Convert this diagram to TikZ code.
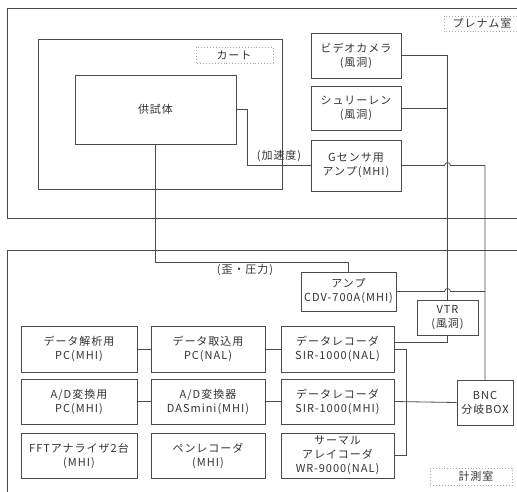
\documentclass[tikz,border=0pt]{standalone}
\usepackage{fontspec}
\setmainfont{Noto Sans CJK JP}[LetterSpace=9]
\usetikzlibrary{calc}
\definecolor{txt}{HTML}{333333}
\definecolor{ln}{HTML}{4A4A4A}
\definecolor{lb}{HTML}{A8A8A8}
\newcommand\mybox[6]{\node[box,minimum width={(#4)-(#2)},minimum height={(#5)-(#3)}] (#1) at ({((#2)+(#4))/2},{((#3)+(#5))/2}) {#6};}
\begin{document}
\begin{tikzpicture}[x=1pt,y=-1pt,
  every node/.style={text=txt, font=\fontsize{11}{14}\selectfont, align=center, inner sep=0pt},
  box/.style={draw=ln, line width=0.8pt},
  wire/.style={draw=ln, line width=0.8pt},
  lblbox/.style={draw=lb, dotted, line width=0.9pt}]
\useasboundingbox[fill=white] (0,0) rectangle (517,491);
% rooms
\begin{scope}
  \clip (0,0) rectangle (517,491);
  \draw[box] (7,8) rectangle (545,218);
  \draw[box] (7,250) rectangle (545,520);
  \draw[lblbox] (444,16) rectangle (545,31);
\end{scope}
\node (plenum) at (482,23.5) {プレナム室};
\draw[lblbox] (430,468) rectangle (512,485);
\node (keisoku) at (476,476.5) {計測室};
% cart
\mybox{cart}{38}{39}{282}{189}{}
\draw[lblbox] (196,47) rectangle (273,63);
\node (cartlbl) at (234,55) {カート};
\mybox{shitai}{75}{75}{236}{144}{供試体}
% plenum devices
\mybox{video}{311}{33}{401}{78}{ビデオカメラ\\(風洞)}
\mybox{schl}{311}{86}{401}{130}{シュリーレン\\(風洞)}
\mybox{gamp}{311}{140}{401}{191}{Gセンサ用\\アンプ(MHI)}
% measurement room
\mybox{amp}{301}{272}{396}{311}{アンプ\\CDV-700A(MHI)}
\mybox{vtr}{417}{300}{478}{335}{VTR\\(風洞)}
\mybox{r1c1}{21}{326}{137}{372}{データ解析用\\PC(MHI)}
\mybox{r1c2}{151}{326}{265}{372}{データ取込用\\PC(NAL)}
\mybox{r1c3}{281}{326}{394}{372}{データレコーダ\\SIR-1000(NAL)}
\mybox{r2c1}{21}{379}{137}{424}{A/D変換用\\PC(MHI)}
\mybox{r2c2}{151}{379}{265}{424}{A/D変換器\\DASmini(MHI)}
\mybox{r2c3}{281}{379}{394}{424}{データレコーダ\\SIR-1000(MHI)}
\mybox{r3c1}{21}{433}{137}{478}{FFTアナライザ2台\\(MHI)}
\mybox{r3c2}{151}{433}{265}{478}{ペンレコーダ\\(MHI)}
\mybox{r3c3}{281}{433}{394}{478}{サーマル\\アレイコーダ\\WR-9000(NAL)}
\mybox{bnc}{457}{380}{513}{425}{BNC\\分岐BOX}
% labels
\node (kasoku) at (279,156) {(加速度)};
\node (hizumi) at (245,270) {(歪・圧力)};
% wires
\draw[wire] (shitai.east) -- ++(11,0) |- (gamp.west);
\coordinate (jA) at (348.5,262);
\draw[wire] (shitai.south) |- (jA) -- (amp.north);
\draw[wire] (video.east) -| (vtr.north);
\draw[wire] (schl.east) -- (schl.east -| vtr.north);
\draw[wire] (gamp.east) -- ($(gamp.east -| vtr.north)+(-3,0)$) arc[start angle=180,end angle=0,radius=3pt] -- (gamp.east -| bnc.north) -- (bnc.north);
\draw[wire] (amp.east) -- ($(amp.east -| vtr.north)+(-3,0)$) arc[start angle=180,end angle=0,radius=3pt] -- (amp.east -| bnc.north);
\draw[wire] ($(r1c3.east)+(0,-7)$) -| (vtr.south);
\draw[wire] (r1c3.east) -- ++(12,0) |- (r3c3.east);
\draw[wire] (r2c3.east) -- (bnc.west);
\draw[wire] (r1c1.east) -- (r1c2.west);
\draw[wire] (r1c2.east) -- (r1c3.west);
\draw[wire] (r2c1.east) -- (r2c2.west);
\draw[wire] (r2c2.east) -- (r2c3.west);
\end{tikzpicture}
\end{document}
